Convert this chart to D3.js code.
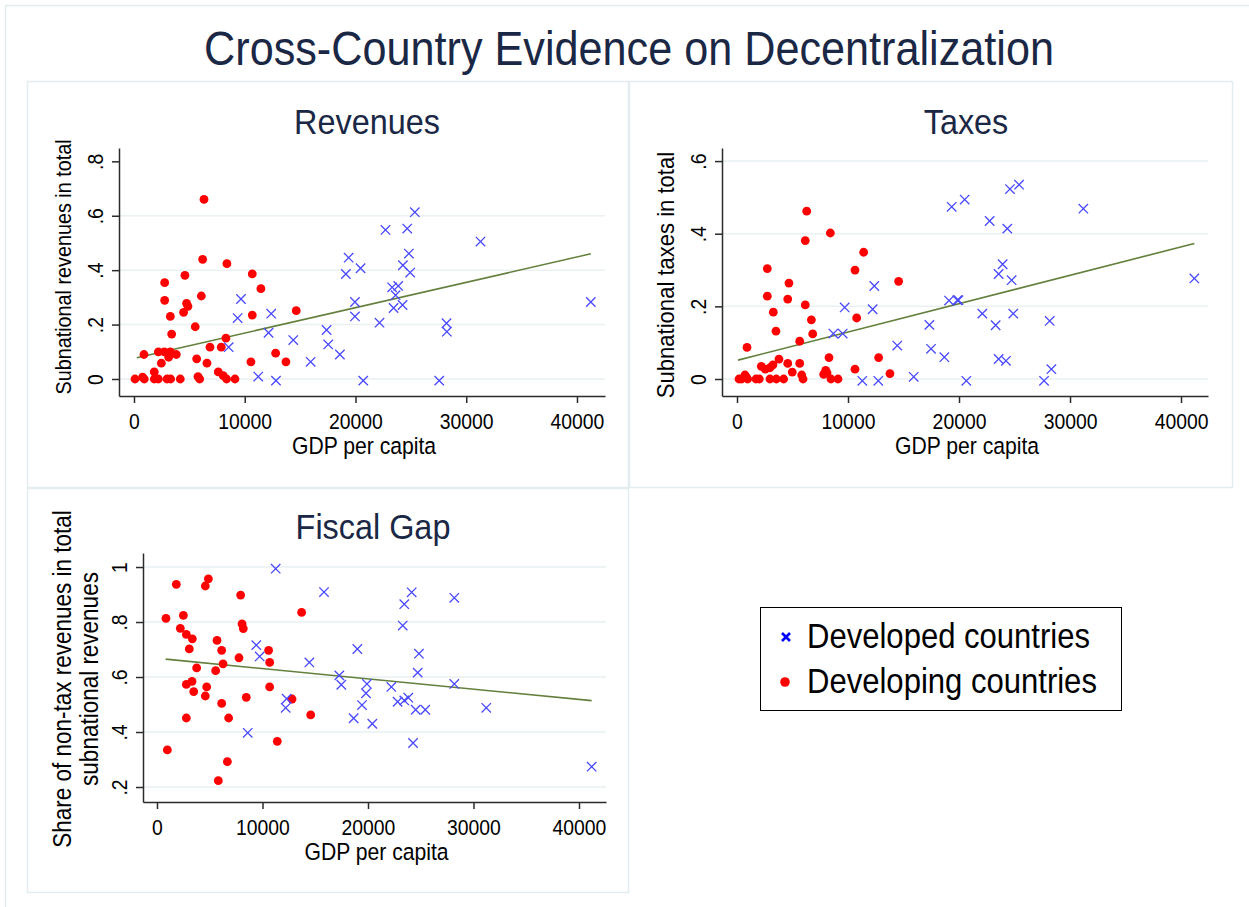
<!DOCTYPE html>
<html>
<head>
<meta charset="utf-8">
<script src="https://cdn.jsdelivr.net/npm/d3@7"></script>
<style>
  body { margin: 0; background: #fff; }
  svg { display: block; }
  text { font-family: "Liberation Sans", Arial, sans-serif; }
</style>
</head>
<body>
<div id="chart"></div>
<script>

// ---- data: [GDP per capita, share] ----

const revDeveloped = [
  [19380,.446],[19130,.386],[20460,.407],[9660,.294],[9360,.224],[12390,.24],[19950,.283],[19950,.23],
  [12150,.17],[17390,.18],[17540,.127],[14380,.143],[8550,.117],[18590,.09],[15950,.063],[11220,.009],
  [12820,-.006],[25360,.613],[22710,.548],[24670,.553],[31290,.505],[24820,.461],[24280,.418],[24940,.391],
  [23310,.337],[23860,.342],[23620,.308],[23440,.261],[24250,.272],[22170,.207],[28220,.205],[28250,.174],
  [41250,.283],[20700,-.006],[27560,-.006]
];
const revDeveloping = [
  [6320,.66],[6200,.44],[8390,.424],[10680,.386],[4600,.381],[2770,.354],[11460,.332],[6080,.305],
  [2770,.289],[4750,.278],[4870,.267],[4480,.245],[14650,.251],[10680,.235],[3280,.23],[5530,.192],
  [3400,.165],[8300,.15],[6860,.117],[7880,.117],[900,.09],[2200,.10],[2740,.10],[3280,.10],
  [3820,.09],[3130,.08],[2470,.058],[5660,.074],[6590,.058],[10560,.063],[13720,.063],[12790,.095],
  [1830,.026],[7610,.026],[8060,.012],[5780,.009],[5930,0],[8360,0],[9120,0],[90,0],
  [780,.007],[930,0],[1830,0],[2200,0],[2980,0],[3310,0],[4180,0]
];
const revFit = [[250, .078], [41250, .46]];

const taxDeveloped = [
  [12370,.256],[12220,.192],[9700,.197],[8680,.125],[9520,.125],[14440,.092],[17330,.149],[17480,.083],
  [18680,.06],[15920,.006],[11290,-.005],[12730,-.005],[19340,.474],[20510,.494],[24590,.523],[25410,.535],
  [22760,.435],[24350,.414],[31200,.469],[23930,.316],[23570,.289],[24740,.272],[19100,.216],[19850,.217],
  [19950,.217],[22100,.18],[24890,.18],[23300,.148],[28170,.16],[23570,.055],[24230,.05],[28320,.027],
  [27660,-.005],[20660,-.005],[41200,.277]
];
const taxDeveloping = [
  [6280,.462],[6150,.381],[8410,.402],[11410,.349],[2730,.304],[10630,.30],[4680,.264],[14560,.269],
  [2730,.228],[4570,.22],[6150,.204],[3270,.184],[10780,.168],[6700,.163],[3510,.132],[6820,.124],
  [5650,.104],[900,.087],[3780,.055],[8290,.059],[12760,.059],[4570,.043],[5650,.043],[2190,.035],
  [3240,.039],[2970,.031],[2550,.027],[4980,.019],[7990,.024],[8110,.017],[10630,.027],[13780,.015],
  [5830,.011],[7810,.013],[720,.011],[840,.005],[180,0],[420,0],[960,0],[1710,0],
  [2010,0],[2970,0],[3540,0],[4200,0],[5950,0],[8470,0],[9100,0]
];
const taxFit = [[90, .052], [41200, .373]];

const gapDeveloped = [
  [11250,.994],[15830,.909],[18990,.702],[9410,.716],[9730,.675],[14440,.653],[17280,.606],[17470,.572],
  [12290,.521],[12200,.488],[19900,.575],[19810,.541],[19430,.498],[18640,.45],[20410,.43],[8600,.397],
  [24140,.908],[23440,.865],[28180,.888],[23290,.787],[24830,.685],[24710,.616],[28180,.575],[22210,.564],
  [22810,.51],[23440,.515],[23820,.525],[24520,.481],[25430,.481],[31210,.488],[24270,.36],[41200,.274]
];
const gapDeveloping = [
  [4870,.957],[4580,.931],[1830,.937],[7930,.898],[13710,.835],[850,.813],[2500,.824],[8060,.793],
  [8180,.776],[2210,.777],[2780,.755],[3350,.739],[5690,.733],[3060,.702],[6130,.697],[10580,.697],
  [10680,.653],[6260,.648],[7770,.67],[3760,.633],[5560,.623],[2780,.573],[3320,.584],[4710,.564],
  [10680,.564],[3480,.547],[4580,.531],[8460,.526],[12800,.52],[6130,.504],[2780,.451],[6790,.451],
  [14570,.462],[11400,.366],[980,.335],[6670,.292],[5810,.223]
];
const gapFit = [[825, .665], [41200, .514]];

const gdpTicks = [0, 10000, 20000, 30000, 40000];
const revTicks = [0, .2, .4, .6, .8];
const taxTicks = [0, .2, .4, .6];
const gapTicks = [.2, .4, .6, .8, 1];
const legendLabels = ["Developed countries", "Developing countries"];

// ---- styles ----
const FONT_SX = 0.9;          // the reference text is a bit narrow
const titleColor = "#1a2745";
const frameColor = "#e3ecef";
const gridColor = "#e9f1f3";
const blue = "#4848ff";
const red = "#ff0000";
const fitColor = "#637f3c";

const width = 1249, height = 907;

const svg = d3.select("#chart").append("svg")
  .attr("width", width)
  .attr("height", height);

svg.append("rect").attr("width", width).attr("height", height).attr("fill", "#fff");
// outer graph region frame (only top/left show inside the canvas)
svg.append("rect")
  .attr("x", 5.5).attr("y", 5.5).attr("width", width + 10).attr("height", height + 10)
  .attr("fill", "none").attr("stroke", frameColor).attr("stroke-width", 1.5);

// text helper, x/y is the anchor point, rot in degrees
function txt(g, s, x, y, size, opt) {
  opt = opt || {};
  return g.append("text")
    .attr("transform", "translate(" + x + "," + y + ") rotate(" + (opt.rot || 0) + ") scale(" + FONT_SX + ",1)")
    .attr("text-anchor", opt.anchor || "middle")
    .attr("font-size", size)
    .attr("fill", opt.color || "#000")
    .text(s);
}

const fmtShare = v => v === 0 ? "0" : String(v).replace(/^0/, "");

txt(svg, "Cross-Country Evidence on Decentralization", 629, 65, 48, {color: titleColor});

function drawPanel(p) {
  const g = svg.append("g");

  g.append("rect")
    .attr("x", p.box[0] + .5).attr("y", p.box[1] + .5)
    .attr("width", p.box[2] - p.box[0]).attr("height", p.box[3] - p.box[1])
    .attr("fill", "#fff").attr("stroke", frameColor).attr("stroke-width", 1.5);

  const x = d3.scaleLinear().domain(p.xDomain).range([p.plot.left, p.plot.right]);
  const y = d3.scaleLinear().domain(p.yDomain).range([p.plot.bottom, p.plot.top]);

  // gridlines
  g.append("g").selectAll("line")
    .data(p.grid)
    .join("line")
    .attr("x1", p.plot.left).attr("x2", p.plot.right)
    .attr("y1", d => y(d)).attr("y2", d => y(d))
    .attr("stroke", gridColor).attr("stroke-width", 1.5);

  // x axis
  const xa = g.append("g")
    .attr("transform", "translate(0," + p.plot.bottom + ")")
    .call(d3.axisBottom(x).tickValues(gdpTicks).tickFormat(d3.format("d")).tickSize(7).tickSizeOuter(0));
  // y axis
  const ya = g.append("g")
    .attr("transform", "translate(" + p.plot.left + ",0)")
    .call(d3.axisLeft(y).tickValues(p.yTicks).tickFormat(fmtShare).tickSize(7).tickSizeOuter(0));

  [xa, ya].forEach(a => {
    a.select(".domain").attr("stroke", "#2b2b2b").attr("stroke-width", 1.5);
    a.selectAll(".tick line").attr("stroke", "#2b2b2b").attr("stroke-width", 1.5);
    a.selectAll(".tick text")
      .attr("font-family", "Liberation Sans, Arial, sans-serif")
      .attr("font-size", 21.5).attr("fill", "#000");
  });
  xa.selectAll(".tick text")
    .attr("y", 0).attr("dy", 0)
    .attr("transform", "translate(0,33) scale(" + FONT_SX + ",1)");
  ya.selectAll(".tick text")
    .attr("x", 0).attr("dy", 0)
    .attr("text-anchor", "middle")
    .attr("transform", "translate(-16,0) rotate(-90) scale(" + FONT_SX + ",1)");

  // fitted line
  g.append("path")
    .datum(p.fit)
    .attr("d", d3.line().x(d => x(d[0])).y(d => y(d[1])))
    .attr("fill", "none").attr("stroke", fitColor).attr("stroke-width", 1.6);

  // developing: red dots
  g.append("g").selectAll("circle")
    .data(p.developing)
    .join("circle")
    .attr("cx", d => x(d[0])).attr("cy", d => y(d[1]))
    .attr("r", 4.4)
    .attr("fill", red);

  // developed: blue crosses
  g.append("g").selectAll("path")
    .data(p.developed)
    .join("path")
    .attr("transform", d => "translate(" + x(d[0]) + "," + y(d[1]) + ")")
    .attr("d", "M-4.7,-4.7L4.7,4.7M-4.7,4.7L4.7,-4.7")
    .attr("fill", "none").attr("stroke", blue).attr("stroke-width", 1.3);

  // titles
  txt(g, p.title, p.titleX, p.titleY, 36, {color: titleColor});
  txt(g, "GDP per capita", (p.plot.left + p.plot.right) / 2 + 2, p.plot.bottom + 58, 23.5);
  p.yTitle.forEach((s, i) => {
    txt(g, s, p.yTitleX + i * 27, p.yTitleY, p.yTitleSize, {rot: -90});
  });
}

drawPanel({
  box: [27, 81, 628, 487],
  plot: {left: 119, right: 605, top: 148, bottom: 396},
  xDomain: [-1354, 42530], yDomain: [-.0625, .849],
  yTicks: revTicks, grid: [0, .2, .4, .6],
  developed: revDeveloped, developing: revDeveloping, fit: revFit,
  title: "Revenues", titleX: 367, titleY: 134,
  yTitle: ["Subnational revenues in total"], yTitleX: 71, yTitleY: 267, yTitleSize: 22
});

drawPanel({
  box: [629, 81, 1232, 487],
  plot: {left: 722, right: 1208, top: 148, bottom: 396},
  xDomain: [-1351, 42430], yDomain: [-.0468, .636],
  yTicks: taxTicks, grid: [0, .2, .4, .6],
  developed: taxDeveloped, developing: taxDeveloping, fit: taxFit,
  title: "Taxes", titleX: 966, titleY: 134,
  yTitle: ["Subnational taxes in total"], yTitleX: 674, yTitleY: 275, yTitleSize: 24.5
});

drawPanel({
  box: [27, 488, 628, 892],
  plot: {left: 143, right: 606, top: 553, bottom: 802},
  xDomain: [-1327, 42560], yDomain: [.1455, 1.051],
  yTicks: gapTicks, grid: gapTicks,
  developed: gapDeveloped, developing: gapDeveloping, fit: gapFit,
  title: "Fiscal Gap", titleX: 373, titleY: 539,
  yTitle: ["Share of non-tax revenues in total", "subnational revenues"], yTitleX: 71, yTitleY: 679, yTitleSize: 25
});

// ---- legend ----
const lg = svg.append("g");
lg.append("rect")
  .attr("x", 760.5).attr("y", 607.5).attr("width", 361).attr("height", 103)
  .attr("fill", "#fff").attr("stroke", "#000").attr("stroke-width", 1);
lg.append("path")
  .attr("transform", "translate(786,637)")
  .attr("d", "M-4,-4L4,4M-4,4L4,-4")
  .attr("stroke", "#0000ff").attr("stroke-width", 2.6);
lg.append("circle")
  .attr("cx", 785).attr("cy", 682).attr("r", 4.8).attr("fill", red);
legendLabels.forEach((s, i) => {
  txt(lg, s, 807, 648 + i * 45, 34.5, {anchor: "start"});
});
</script>
</body>
</html>
